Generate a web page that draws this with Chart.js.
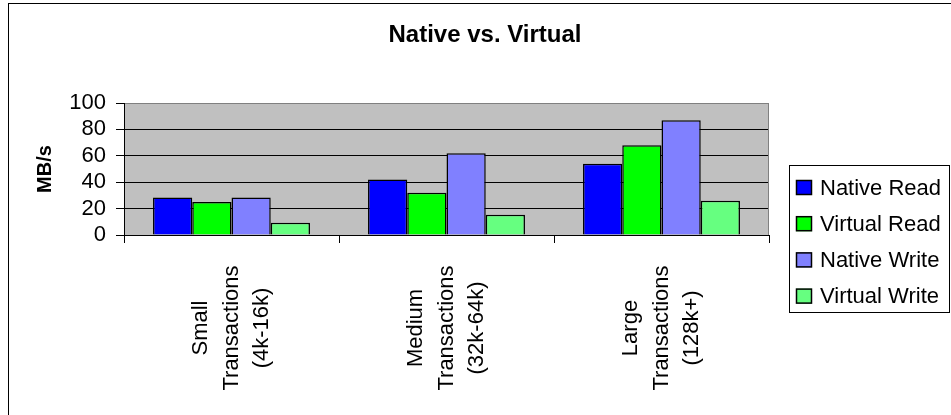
<!DOCTYPE html>
<html>
<head>
<meta charset="utf-8">
<script src="https://cdn.jsdelivr.net/npm/chart.js@4/dist/chart.umd.min.js"></script>
<style>
  html, body { margin: 0; padding: 0; background: #fff; }
  #wrap { width: 951px; height: 415px; position: relative; }
</style>
</head>
<body>
<div id="wrap"><canvas id="c" width="951" height="415"></canvas></div>
<script>
// Throughput by transaction size, MB/s
const categories = [
  ["Small", "Transactions", "(4k-16k)"],
  ["Medium", "Transactions", "(32k-64k)"],
  ["Large", "Transactions", "(128k+)"]
];
const nativeRead   = [28.5, 42, 54];
const virtualRead  = [25, 32, 68];
const nativeWrite  = [28.5, 62, 87];
const virtualWrite = [9.3, 15.4, 26];
const seriesNames  = ["Native Read", "Virtual Read", "Native Write", "Virtual Write"];
const seriesColors = ["#0000FF", "#00FF00", "#8080FF", "#66FF80"];
const yTicks = [0, 20, 40, 60, 80, 100];
const chartTitle = "Native vs. Virtual";

const FONT = "'Liberation Sans', Arial, sans-serif";

// White page, outer frame and grey plot background
const framePlugin = {
  id: 'frame',
  beforeDraw(chart) {
    const { ctx, chartArea: a } = chart;
    ctx.save();
    ctx.fillStyle = '#fff';
    ctx.fillRect(0, 0, chart.width, chart.height);
    ctx.strokeStyle = '#000';
    ctx.lineWidth = 1;
    ctx.strokeRect(8.5, 3.5, chart.width + 20, chart.height + 20);
    ctx.fillStyle = '#C0C0C0';
    ctx.fillRect(a.left, a.top, a.right - a.left, a.bottom - a.top);
    ctx.restore();
  },
  afterDatasetsDraw(chart) {
    const { ctx, chartArea: a } = chart;
    ctx.save();
    ctx.strokeStyle = '#808080';
    ctx.lineWidth = 1;
    ctx.beginPath();
    ctx.moveTo(Math.round(a.right) - 0.5, a.top);
    ctx.lineTo(Math.round(a.right) - 0.5, a.bottom);
    ctx.stroke();
    ctx.restore();
  },
  afterDraw(chart) {
    // Title centred over the whole chart, legend included
    const { ctx } = chart;
    ctx.save();
    ctx.fillStyle = '#000';
    ctx.font = `bold 24px ${FONT}`;
    ctx.textAlign = 'center';
    ctx.textBaseline = 'middle';
    ctx.fillText(chartTitle, 485, 35);
    ctx.restore();
  }
};

// Category labels: rotated, each line centred on its category
const xLabelPlugin = {
  id: 'xLabels',
  afterDraw(chart) {
    const { ctx } = chart;
    const xs = chart.scales.x;
    const lineGap = 30.5;
    ctx.save();
    ctx.fillStyle = '#000';
    ctx.font = `22px ${FONT}`;
    ctx.textAlign = 'center';
    ctx.textBaseline = 'middle';
    categories.forEach((lines, i) => {
      const cx = xs.getPixelForValue(i);
      const n = lines.length;
      lines.forEach((t, j) => {
        const x = cx + (j - (n - 1) / 2) * lineGap;
        ctx.save();
        ctx.translate(x, 328);
        ctx.rotate(-Math.PI / 2);
        ctx.fillText(t, 0, 0);
        ctx.restore();
      });
    });
    ctx.restore();
  }
};

// Boxed legend on the right
const legendPlugin = {
  id: 'boxLegend',
  afterDraw(chart) {
    const { ctx } = chart;
    ctx.save();
    ctx.strokeStyle = '#000';
    ctx.lineWidth = 1;
    ctx.strokeRect(789.5, 165.5, 160, 147);
    ctx.font = `22px ${FONT}`;
    ctx.textAlign = 'left';
    ctx.textBaseline = 'middle';
    chart.data.datasets.forEach((ds, i) => {
      const cy = 187.5 + i * 36.2;
      ctx.fillStyle = ds.backgroundColor;
      ctx.fillRect(796, cy - 7.5, 16, 15);
      ctx.strokeStyle = '#000';
      ctx.lineWidth = 1.5;
      ctx.strokeRect(796.5, cy - 7, 15, 14);
      ctx.fillStyle = '#000';
      ctx.fillText(ds.label, 820, cy + 1);
    });
    ctx.restore();
  }
};

const seriesData = [nativeRead, virtualRead, nativeWrite, virtualWrite];

new Chart(document.getElementById('c'), {
  type: 'bar',
  data: {
    labels: categories,
    datasets: seriesData.map((d, i) => ({
      label: seriesNames[i],
      data: d,
      backgroundColor: seriesColors[i],
      borderColor: '#000',
      borderWidth: 1.5,
      categoryPercentage: 0.73,
      barPercentage: 1.0
    }))
  },
  options: {
    responsive: false,
    animation: false,
    devicePixelRatio: 1,
    layout: { padding: { left: 0, right: 182, top: 0, bottom: 0 } },
    plugins: {
      legend: { display: false },
      tooltip: { enabled: false },
      title: {
        // reserves the top band; the text itself is painted by the frame plugin
        display: true,
        text: chartTitle,
        color: 'rgba(0,0,0,0)',
        font: { family: FONT, size: 24, weight: 'bold', lineHeight: 1.2 },
        padding: { top: 20, bottom: 54.2 }
      }
    },
    scales: {
      x: {
        ticks: { display: false },
        grid: {
          display: true,
          drawOnChartArea: false,
          drawTicks: true,
          tickLength: 8,
          offset: true,
          color: '#000',
          tickColor: '#000'
        },
        border: { display: true, color: '#000', width: 1 },
        afterFit(s) { s.height = 180; }
      },
      y: {
        min: 0,
        max: 100,
        afterBuildTicks(s) { s.ticks = yTicks.map(v => ({ value: v })); },
        ticks: {
          color: '#000',
          padding: 10,
          autoSkip: false,
          font: { family: FONT, size: 22 }
        },
        grid: {
          color: (c) => (c.tick && c.tick.value === 100 ? '#808080' : '#000'),
          tickColor: '#000',
          tickLength: 8,
          lineWidth: 1
        },
        border: { display: true, color: '#000', width: 1 },
        title: {
          display: true,
          text: 'MB/s',
          color: '#000',
          font: { family: FONT, size: 20, weight: 'bold', lineHeight: 1.2 },
          padding: { top: 33, bottom: 0 }
        },
        afterFit(s) { s.width = 124; }
      }
    }
  },
  plugins: [framePlugin, xLabelPlugin, legendPlugin]
});
</script>
</body>
</html>
